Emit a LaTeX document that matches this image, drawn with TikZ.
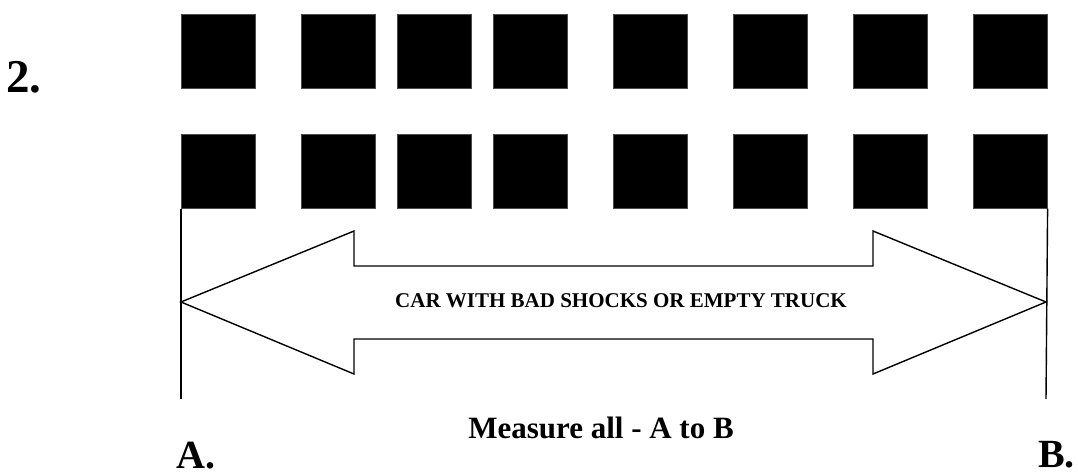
\documentclass[tikz,border=0pt]{standalone}
\usepackage{fontspec}
\setmainfont{Liberation Serif}
\begin{document}
\begin{tikzpicture}[x=1pt,y=-1pt,
  blk/.style={fill=black,draw=black!70,line width=0.6pt,minimum width=74pt,minimum height=74pt,inner sep=0pt,anchor=north west},
  lbl/.style={inner sep=0pt,font=\bfseries},
  thin/.style={line width=1.4pt,black}]
\useasboundingbox (0,0) rectangle (1078,476);
% squares
\foreach \i/\x in {1/181,2/301,3/397,4/493,5/613,6/733,7/853,8/973}{
  \node[blk] (t\i) at (\x,14) {};
  \node[blk] (b\i) at (\x,134) {};
}
% extension lines
\coordinate (la) at (181,399);
\coordinate (lb) at (1046,399);
\draw[thin] (b1.south west) -- (la);
\draw[thin] (b8.south east) -- (lb);
% double arrow
\coordinate (tipA) at (181,302);
\coordinate (tipB) at (1046,302);
\draw[thin,line join=miter] (tipA) -- (354,231) -- (354,266) -- (873,266) -- (873,231) -- (tipB)
  -- (873,374) -- (873,339) -- (354,339) -- (354,374) -- cycle;
% texts
\node[lbl,font=\bfseries\fontsize{21}{21}\selectfont,anchor=base] (car) at (621,307) {CAR WITH BAD SHOCKS OR EMPTY TRUCK};
\node[lbl,font=\bfseries\fontsize{47}{47}\selectfont,anchor=base west] (two) at (6,93) {2.};
\node[lbl,font=\bfseries\fontsize{31}{31}\selectfont,anchor=base] (meas) at (601,438) {Measure all - A to B};
\node[lbl,font=\bfseries\fontsize{40}{40}\selectfont,anchor=base west] (A) at (176,468) {A.};
\node[lbl,font=\bfseries\fontsize{40}{40}\selectfont,anchor=base east] (B) at (1075,467) {B.};
\end{tikzpicture}
\end{document}
